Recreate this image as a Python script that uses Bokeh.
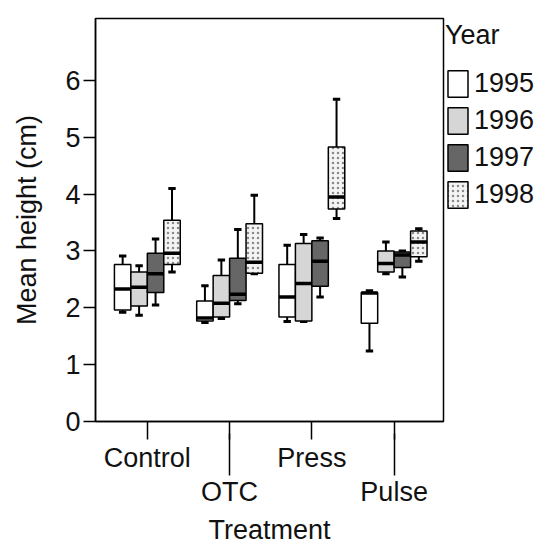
from bokeh.plotting import figure
from bokeh.models import Range1d, LinearAxis, FixedTicker, Legend, LegendItem, ColumnDataSource
from bokeh.embed import file_html
from bokeh.resources import INLINE

treatments = ["Control", "OTC", "Press", "Pulse"]
years = ["1995", "1996", "1997", "1998"]

# per year: values for Control, OTC, Press, Pulse
low_1995 = [1.92, 1.74, 1.76, 1.24]
q1_1995 = [1.96, 1.77, 1.84, 1.73]
med_1995 = [2.33, 1.82, 2.19, 2.26]
q3_1995 = [2.76, 2.12, 2.76, 2.27]
high_1995 = [2.91, 2.39, 3.10, 2.30]

low_1996 = [1.87, 1.81, 1.76, 2.60]
q1_1996 = [2.03, 1.84, 1.77, 2.63]
med_1996 = [2.36, 2.08, 2.43, 2.78]
q3_1996 = [2.63, 2.57, 3.13, 3.00]
high_1996 = [2.74, 2.84, 3.29, 3.16]

low_1997 = [2.05, 2.07, 2.19, 2.54]
q1_1997 = [2.27, 2.13, 2.38, 2.71]
med_1997 = [2.60, 2.24, 2.82, 2.93]
q3_1997 = [2.96, 2.87, 3.18, 2.98]
high_1997 = [3.21, 3.38, 3.23, 3.00]

low_1998 = [2.63, 2.60, 3.57, 2.82]
q1_1998 = [2.76, 2.61, 3.74, 2.90]
med_1998 = [2.96, 2.80, 3.95, 3.16]
q3_1998 = [3.54, 3.48, 4.83, 3.35]
high_1998 = [4.10, 3.98, 5.67, 3.39]

stats = {
    "1995": (low_1995, q1_1995, med_1995, q3_1995, high_1995),
    "1996": (low_1996, q1_1996, med_1996, q3_1996, high_1996),
    "1997": (low_1997, q1_1997, med_1997, q3_1997, high_1997),
    "1998": (low_1998, q1_1998, med_1998, q3_1998, high_1998),
}

fills = {"1995": "white", "1996": "#d6d6d6", "1997": "#666666", "1998": "#f4f4f4"}
offsets = {"1995": -0.3, "1996": -0.1, "1997": 0.1, "1998": 0.3}
BOXW = 0.2
CAPW = 0.09

FONT = "Liberation Sans"
FS = "27px"

p = figure(frame_width=348, frame_height=403, output_backend="svg", toolbar_location=None,
           x_range=Range1d(0.37, 4.6), y_range=Range1d(0, 7.09),
           x_axis_location=None, min_border_left=95, min_border_top=18,
           min_border_right=0, min_border_bottom=0)
p.grid.visible = False
p.outline_line_color = "black"
p.outline_line_width = 1.5
p.background_fill_color = "white"
p.border_fill_color = "white"

ya = p.yaxis[0]
ya.ticker = FixedTicker(ticks=[0, 1, 2, 3, 4, 5, 6])
ya.major_tick_out = 12
ya.major_tick_in = 0
ya.minor_tick_line_color = None
ya.major_tick_line_width = 1.5
ya.axis_line_width = 1.5
ya.major_label_text_font = FONT
ya.major_label_text_font_size = FS
ya.major_label_text_color = "#111111"
ya.major_label_standoff = 3
ya.axis_label = "Mean height (cm)"
ya.axis_label_text_font = FONT
ya.axis_label_text_font_size = FS
ya.axis_label_text_font_style = "normal"
ya.axis_label_text_color = "#111111"
ya.axis_label_standoff = 20

axA = LinearAxis(ticker=FixedTicker(ticks=[1, 2, 3, 4]),
                 major_label_overrides={1: treatments[0], 2: "", 3: treatments[2], 4: ""})
axA.major_tick_out = 18
axA.major_tick_in = 0
axA.minor_tick_line_color = None
axA.major_tick_line_width = 1.5
axA.axis_line_width = 1.5
axA.major_label_text_font = FONT
axA.major_label_text_font_size = FS
axA.major_label_text_color = "#111111"
axA.major_label_standoff = 3
p.add_layout(axA, "below")

axB = LinearAxis(ticker=FixedTicker(ticks=[2, 4]),
                 major_label_overrides={2: treatments[1], 4: treatments[3]})
axB.axis_line_color = None
axB.major_tick_out = 0
axB.major_tick_in = 42
axB.minor_tick_line_color = None
axB.major_tick_line_width = 1.5
axB.major_label_text_font = FONT
axB.major_label_text_font_size = FS
axB.major_label_text_color = "#111111"
axB.major_label_standoff = 1
axB.axis_label = "Treatment"
axB.axis_label_text_font = FONT
axB.axis_label_text_font_size = FS
axB.axis_label_text_font_style = "normal"
axB.axis_label_text_color = "#111111"
axB.axis_label_standoff = 5
p.add_layout(axB, "below")

items = []
for y in years:
    lo, q1, md, q3, hi = stats[y]
    xs = [i + 1 + offsets[y] for i in range(len(treatments))]
    src = ColumnDataSource(dict(
        x=xs, xl=[x - BOXW / 2 for x in xs], xr=[x + BOXW / 2 for x in xs],
        cl=[x - CAPW / 2 for x in xs], cr=[x + CAPW / 2 for x in xs],
        low=lo, q1=q1, med=md, q3=q3, high=hi))
    p.segment(x0="x", x1="x", y0="q3", y1="high", source=src, line_color="black", line_width=2)
    p.segment(x0="x", x1="x", y0="low", y1="q1", source=src, line_color="black", line_width=2)
    p.segment(x0="cl", x1="cr", y0="high", y1="high", source=src, line_color="black", line_width=3)
    p.segment(x0="cl", x1="cr", y0="low", y1="low", source=src, line_color="black", line_width=3)
    kw = {}
    if y == "1998":
        kw = dict(hatch_pattern="dot", hatch_color="#8a8a8a", hatch_scale=5, hatch_weight=2.2)
    r = p.vbar(x="x", width=BOXW, bottom="q1", top="q3", source=src,
               fill_color=fills[y], line_color="black", line_width=1.5, **kw)
    p.segment(x0="xl", x1="xr", y0="med", y1="med", source=src, line_color="black", line_width=3.5)
    items.append(LegendItem(label=y, renderers=[r]))

legend = Legend(items=items, location="top_left")
legend.title = "Year"
legend.title_text_font = FONT
legend.title_text_font_size = FS
legend.title_text_font_style = "normal"
legend.title_text_color = "#111111"
legend.title_standoff = 16
legend.label_text_font = FONT
legend.label_text_font_size = FS
legend.label_text_color = "#111111"
legend.glyph_width = 25
legend.glyph_height = 33
legend.label_height = 33
legend.label_standoff = 4
legend.spacing = 4
legend.padding = 2
legend.margin = 2
legend.border_line_color = None
legend.background_fill_color = None
p.add_layout(legend, "right")

open("out.html", "w").write(file_html(p, INLINE))
